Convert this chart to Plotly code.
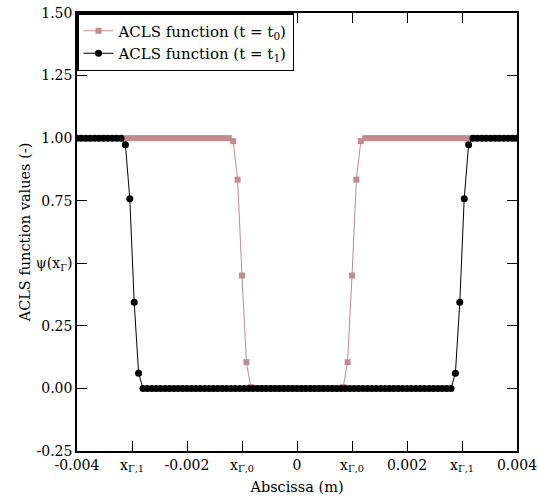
import plotly.graph_objects as go

# Black series (t = t1): 101 grid points
x_t1 = [round(-0.004 + 0.00008 * i, 6) for i in range(101)]
y_t1 = ([1.0] * 11 + [0.974, 0.758, 0.344, 0.061] + [0.0] * 71
        + [0.061, 0.344, 0.758, 0.974] + [1.0] * 11)

# Pink series (t = t0): 100 cell-centre points
x_t0 = [round(-0.00396 + 0.00008 * k, 6) for k in range(100)]
y_t0 = ([1.0] * 35 + [0.988, 0.834, 0.451, 0.105, 0.005] + [0.0] * 20
        + [0.005, 0.105, 0.451, 0.834, 0.988] + [1.0] * 35)

x_tickvals = [-0.004, -0.003, -0.002, -0.001, 0, 0.001, 0.002, 0.003, 0.004]
x_ticktext = ["-0.004", "x<sub>Γ,1</sub>", "-0.002", "x<sub>Γ,0</sub>", "0",
              "x<sub>Γ,0</sub>", "0.002", "x<sub>Γ,1</sub>", "0.004"]
y_tickvals = [-0.25, 0.0, 0.25, 0.5, 0.75, 1.0, 1.25, 1.5]
y_ticktext = ["-0.25", "0.00", "0.25", "ψ(x<sub>Γ</sub>)", "0.75", "1.00", "1.25", "1.50"]

pink = "#C08C8C"
font_family = "DejaVu Serif"

fig = go.Figure()
fig.add_trace(go.Scatter(
    x=x_t0, y=y_t0, mode="lines+markers",
    name="ACLS function (t = t<sub>0</sub>)",
    line=dict(color=pink, width=1),
    marker=dict(symbol="square", size=6, color=pink),
))
fig.add_trace(go.Scatter(
    x=x_t1, y=y_t1, mode="lines+markers",
    name="ACLS function (t = t<sub>1</sub>)",
    line=dict(color="black", width=1),
    marker=dict(symbol="circle", size=7, color="black"),
))

axis_common = dict(
    showline=True, linecolor="black", linewidth=1.5, mirror="ticks",
    ticks="inside", ticklen=10, tickwidth=1, tickcolor="black",
    showgrid=False, zeroline=False, automargin=False,
    ticklabeloverflow="allow",
    tickfont=dict(family=font_family, size=14, color="black"),
)

fig.update_layout(
    width=538, height=502,
    margin=dict(l=77, r=21, t=13, b=51, autoexpand=False),
    paper_bgcolor="white", plot_bgcolor="white",
    font=dict(family=font_family, size=14, color="black"),
    xaxis=dict(range=[-0.004, 0.004], tickvals=x_tickvals, ticktext=x_ticktext,
               title=dict(text="Abscissa (m)", font=dict(family=font_family, size=14.5), standoff=8),
               **axis_common),
    yaxis=dict(range=[-0.25, 1.5], tickvals=y_tickvals, ticktext=y_ticktext,
               title=dict(text="ACLS function values (-)", font=dict(family=font_family, size=14.5), standoff=2),
               **axis_common),
    legend=dict(x=0, y=1, xanchor="left", yanchor="top",
                bordercolor="black", borderwidth=1.5, bgcolor="white",
                font=dict(family=font_family, size=15, color="black"),
                tracegroupgap=0),
    showlegend=True,
)

fig.write_html("out.html")
